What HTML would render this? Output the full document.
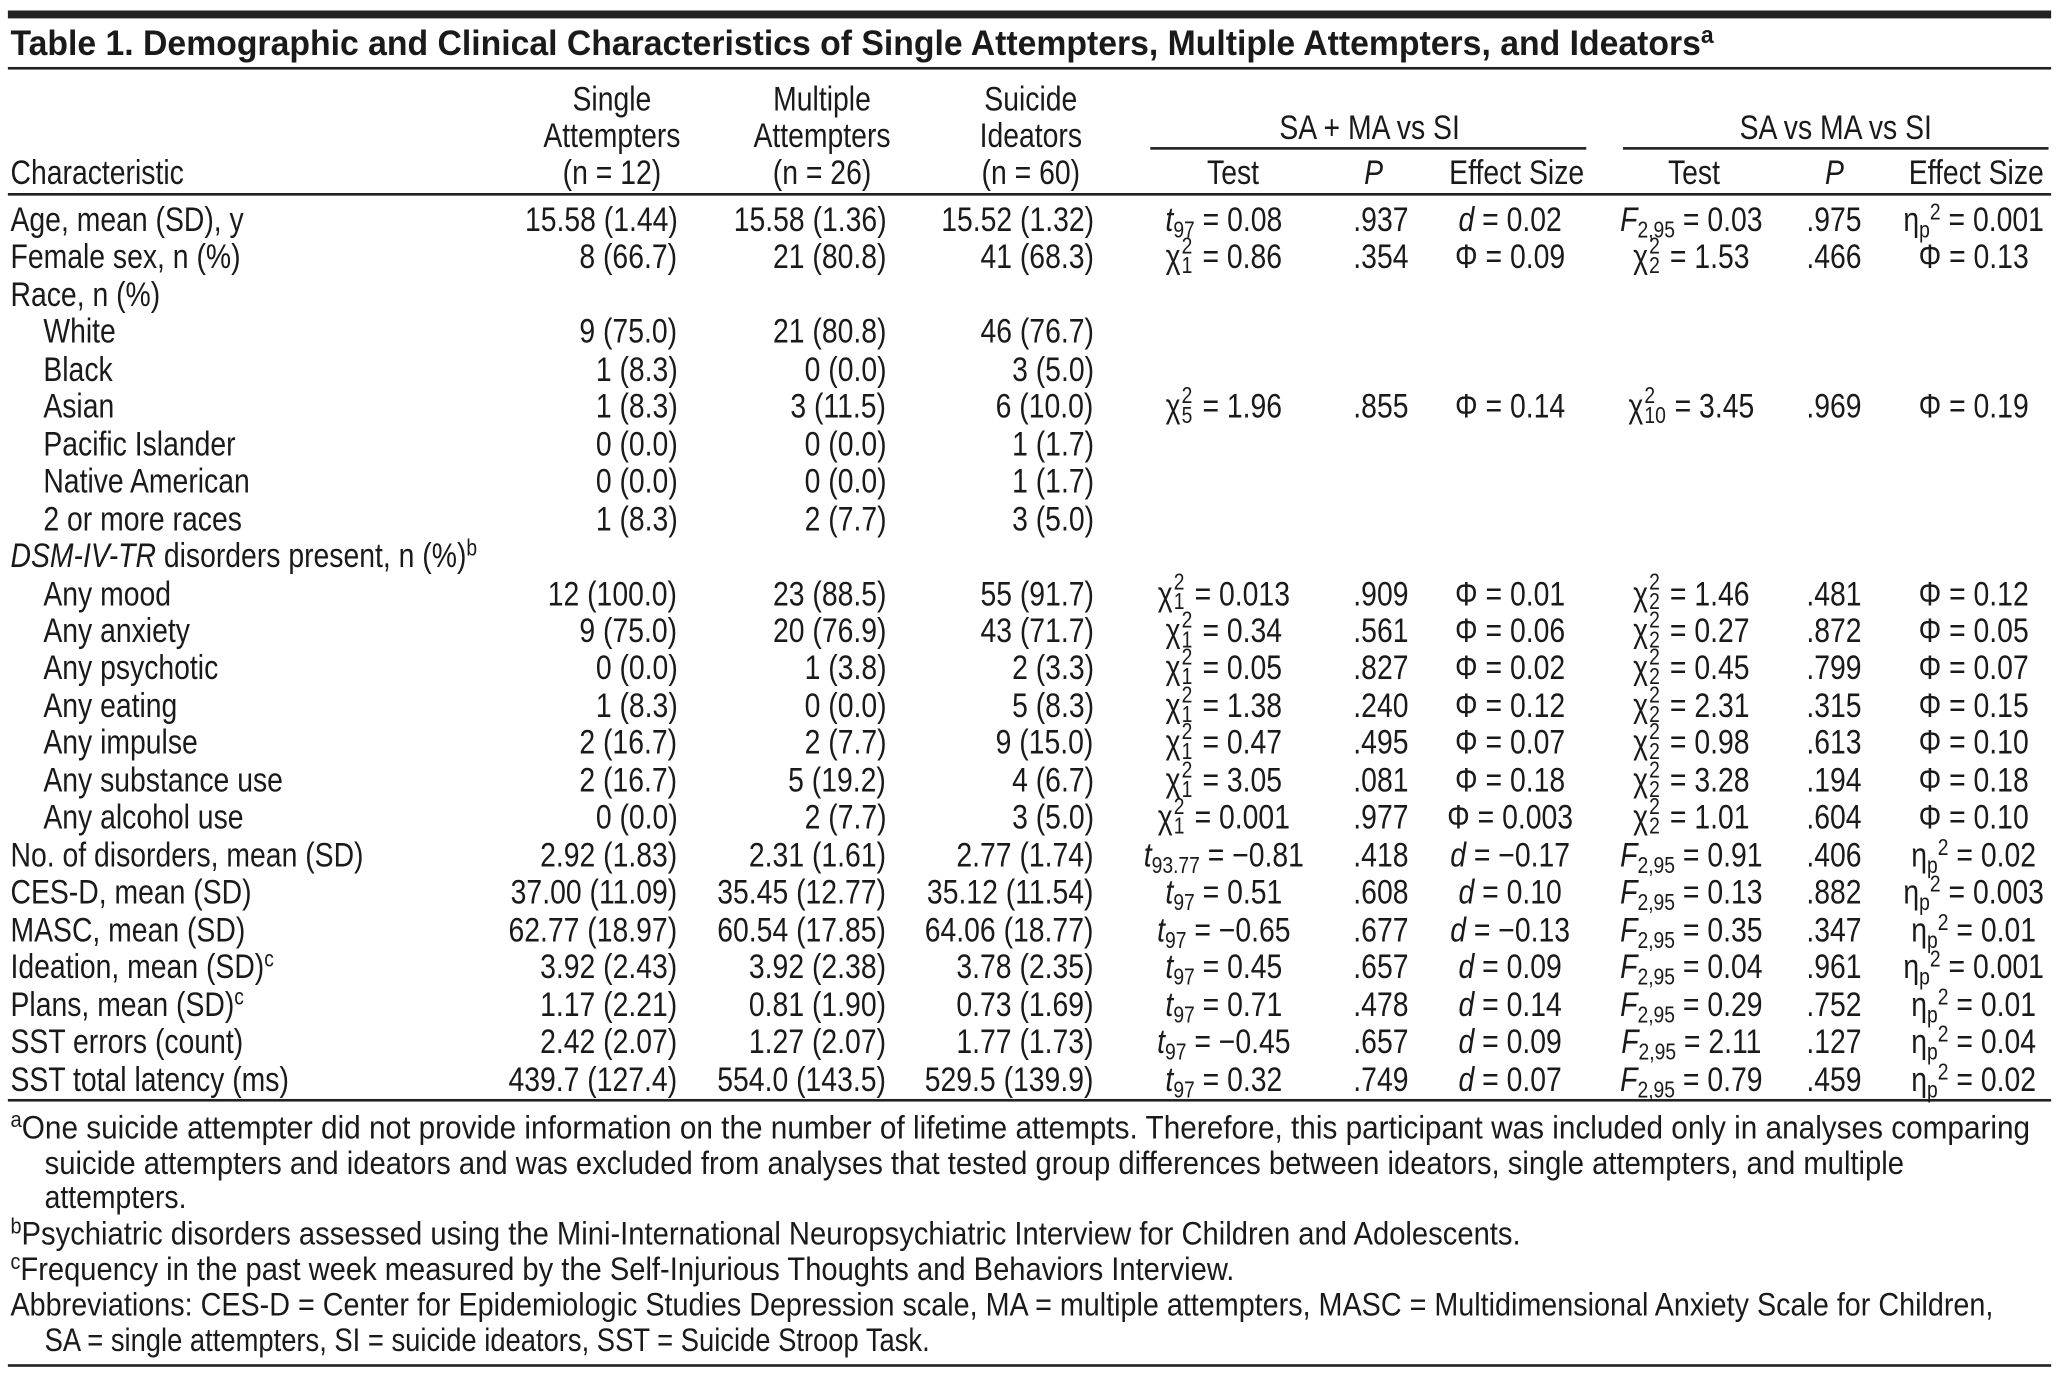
<!DOCTYPE html>
<html><head><meta charset="utf-8">
<style>
html,body{margin:0;padding:0;background:#fff;}
body{width:2059px;height:1376px;overflow:hidden;position:relative;}
#stage{position:absolute;left:0;top:0;width:1568px;height:1048px;transform:scale(1.31314,1.31298);transform-origin:0 0;color:#1a1a1a;
 font-family:"Liberation Sans Narrow","Arial Narrow","Liberation Sans",sans-serif;font-size:26px;}
.tx{position:absolute;height:28.6px;line-height:28.6px;white-space:nowrap;}
.rule{position:absolute;background:#222;}
sub{font-size:0.68em;vertical-align:-0.28em;line-height:0;}
sup{font-size:0.68em;vertical-align:0.5em;line-height:0;}
.ss{position:relative;display:inline-block;height:0;margin:0 1px;}
.ss .a,.ss .b{position:absolute;left:0;font-size:0.68em;line-height:1;}
.ss .a{bottom:0.42em;}
.ss .b{bottom:-0.42em;}
.title{font-weight:bold;}
.fn{font-size:25px;}
</style></head>
<body>
<div id="stage">
  <div class="rule" style="left:6px;top:8px;width:1556px;height:6px;"></div>
  <div class="rule" style="left:6px;top:51px;width:1556px;height:1.6px;"></div>
  <div class="rule" style="left:876px;top:112px;width:332px;height:1.6px;"></div>
  <div class="rule" style="left:1236px;top:112px;width:324px;height:1.6px;"></div>
  <div class="rule" style="left:6px;top:147px;width:1556px;height:1.6px;"></div>
  <div class="rule" style="left:6px;top:837px;width:1556px;height:1.6px;"></div>
  <div class="rule" style="left:6px;top:1039px;width:1556px;height:1.6px;"></div>
</div>
<script>
const chi = (df) => 'χ<span class="ss" style="width:' + (String(df).length > 1 ? 0.75 : 0.42) + 'em"><span class="a">2</span><span class="b">' + df + '</span></span>';
const eta = 'η<sub>p</sub><sup>2</sup>';
const rowLabels = ["Age, mean (SD), y","Female sex, n (%)","Race, n (%)","White","Black","Asian","Pacific Islander","Native American","2 or more races","<i>DSM-IV-TR</i> disorders present, n (%)<sup>b</sup>","Any mood","Any anxiety","Any psychotic","Any eating","Any impulse","Any substance use","Any alcohol use","No. of disorders, mean (SD)","CES-D, mean (SD)","MASC, mean (SD)","Ideation, mean (SD)<sup>c</sup>","Plans, mean (SD)<sup>c</sup>","SST errors (count)","SST total latency (ms)"];
const rowIndent = [0,0,0,1,1,1,1,1,1,0,1,1,1,1,1,1,1,0,0,0,0,0,0,0];
const singleVals = ["15.58 (1.44)","8 (66.7)","","9 (75.0)","1 (8.3)","1 (8.3)","0 (0.0)","0 (0.0)","1 (8.3)","","12 (100.0)","9 (75.0)","0 (0.0)","1 (8.3)","2 (16.7)","2 (16.7)","0 (0.0)","2.92 (1.83)","37.00 (11.09)","62.77 (18.97)","3.92 (2.43)","1.17 (2.21)","2.42 (2.07)","439.7 (127.4)"];
const multipleVals = ["15.58 (1.36)","21 (80.8)","","21 (80.8)","0 (0.0)","3 (11.5)","0 (0.0)","0 (0.0)","2 (7.7)","","23 (88.5)","20 (76.9)","1 (3.8)","0 (0.0)","2 (7.7)","5 (19.2)","2 (7.7)","2.31 (1.61)","35.45 (12.77)","60.54 (17.85)","3.92 (2.38)","0.81 (1.90)","1.27 (2.07)","554.0 (143.5)"];
const ideatorVals = ["15.52 (1.32)","41 (68.3)","","46 (76.7)","3 (5.0)","6 (10.0)","1 (1.7)","1 (1.7)","3 (5.0)","","55 (91.7)","43 (71.7)","2 (3.3)","5 (8.3)","9 (15.0)","4 (6.7)","3 (5.0)","2.77 (1.74)","35.12 (11.54)","64.06 (18.77)","3.78 (2.35)","0.73 (1.69)","1.77 (1.73)","529.5 (139.9)"];
const test1 = ["<i>t</i><sub>97</sub> = 0.08",chi(1)+" = 0.86","","","",chi(5)+" = 1.96","","","","",chi(1)+" = 0.013",chi(1)+" = 0.34",chi(1)+" = 0.05",chi(1)+" = 1.38",chi(1)+" = 0.47",chi(1)+" = 3.05",chi(1)+" = 0.001","<i>t</i><sub>93.77</sub> = −0.81","<i>t</i><sub>97</sub> = 0.51","<i>t</i><sub>97</sub> = −0.65","<i>t</i><sub>97</sub> = 0.45","<i>t</i><sub>97</sub> = 0.71","<i>t</i><sub>97</sub> = −0.45","<i>t</i><sub>97</sub> = 0.32"];
const p1 = [".937",".354","","","",".855","","","","",".909",".561",".827",".240",".495",".081",".977",".418",".608",".677",".657",".478",".657",".749"];
const eff1 = ["<i>d</i> = 0.02","Φ = 0.09","","","","Φ = 0.14","","","","","Φ = 0.01","Φ = 0.06","Φ = 0.02","Φ = 0.12","Φ = 0.07","Φ = 0.18","Φ = 0.003","<i>d</i> = −0.17","<i>d</i> = 0.10","<i>d</i> = −0.13","<i>d</i> = 0.09","<i>d</i> = 0.14","<i>d</i> = 0.09","<i>d</i> = 0.07"];
const test2 = ["<i>F</i><sub>2,95</sub> = 0.03",chi(2)+" = 1.53","","","",chi(10)+" = 3.45","","","","",chi(2)+" = 1.46",chi(2)+" = 0.27",chi(2)+" = 0.45",chi(2)+" = 2.31",chi(2)+" = 0.98",chi(2)+" = 3.28",chi(2)+" = 1.01","<i>F</i><sub>2,95</sub> = 0.91","<i>F</i><sub>2,95</sub> = 0.13","<i>F</i><sub>2,95</sub> = 0.35","<i>F</i><sub>2,95</sub> = 0.04","<i>F</i><sub>2,95</sub> = 0.29","<i>F</i><sub>2,95</sub> = 2.11","<i>F</i><sub>2,95</sub> = 0.79"];
const p2 = [".975",".466","","","",".969","","","","",".481",".872",".799",".315",".613",".194",".604",".406",".882",".347",".961",".752",".127",".459"];
const eff2 = [eta+" = 0.001","Φ = 0.13","","","","Φ = 0.19","","","","","Φ = 0.12","Φ = 0.05","Φ = 0.07","Φ = 0.15","Φ = 0.10","Φ = 0.18","Φ = 0.10",eta+" = 0.02",eta+" = 0.003",eta+" = 0.01",eta+" = 0.001",eta+" = 0.01",eta+" = 0.04",eta+" = 0.02"];
const footnotes = ["<sup>a</sup>One suicide attempter did not provide information on the number of lifetime attempts. Therefore, this participant was included only in analyses comparing","suicide attempters and ideators and was excluded from analyses that tested group differences between ideators, single attempters, and multiple","attempters.","<sup>b</sup>Psychiatric disorders assessed using the Mini-International Neuropsychiatric Interview for Children and Adolescents.","<sup>c</sup>Frequency in the past week measured by the Self-Injurious Thoughts and Behaviors Interview.","Abbreviations: CES-D = Center for Epidemiologic Studies Depression scale, MA = multiple attempters, MASC = Multidimensional Anxiety Scale for Children,","SA = single attempters, SI = suicide ideators, SST = Suicide Stroop Task."];
const footnoteIndent = [0,1,1,0,0,0,1];
const footnoteEnds = [1546,1450,142,1158,940,1518,708];

const stage = document.getElementById('stage');
const W = 1568;
const cells = [];
function place(html, x, y, align, cls) {
  const d = document.createElement('div');
  d.className = 'tx' + (cls ? ' ' + cls : '');
  d.innerHTML = html;
  d.style.top = (y - 14.3) + 'px';
  if (align === 'right') { d.style.right = (W - x) + 'px'; }
  else { d.style.left = x + 'px'; }
  d.dataset.align = align;
  stage.appendChild(d);
  cells.push(d);
  return d;
}
function setT(d, k) {
  const a = d.dataset.align;
  if (a === 'center') { d.style.transformOrigin = 'center'; d.style.transform = 'translateX(-50%) scaleX(' + k + ')'; }
  else if (a === 'right') { d.style.transformOrigin = 'right center'; d.style.transform = 'scaleX(' + k + ')'; }
  else { d.style.transformOrigin = 'left center'; d.style.transform = 'scaleX(' + k + ')'; }
}

const title = place('Table 1. Demographic and Clinical Characteristics of Single Attempters, Multiple Attempters, and Ideators<sup>a</sup>', 8, 33, 'left', 'title');
title.style.fontSize = '27px';



const groupHeads = [["Single","Attempters","(n = 12)"],["Multiple","Attempters","(n = 26)"],["Suicide","Ideators","(n = 60)"]];
const groupCenters = [466, 626, 785];
const headY = [75, 103, 131];
for (let g = 0; g < 3; g++) {
  for (let l = 0; l < 3; l++) {
    const h = place(groupHeads[g][l], groupCenters[g], headY[l], 'center');
    
    
  }
}
let hc = place('Characteristic', 8, 131, 'left');


let sp1 = place('SA + MA vs SI', 1043, 97, 'center');


let sp2 = place('SA vs MA vs SI', 1398, 97, 'center');


const subHeads = ['Test', '<i>P</i>', 'Effect Size', 'Test', '<i>P</i>', 'Effect Size'];
const subCenters = [939, 1046, 1155, 1290, 1397, 1505];
for (let i = 0; i < subHeads.length; i++) {
  const s = place(subHeads[i], subCenters[i], 131, 'center');
  
  
}

const y0 = 167, dy = 28.48;
const colDefs = [[singleVals,516,'right'],[multipleVals,675,'right'],[ideatorVals,833,'right'],[test1,932,'center'],[p1,1073,'right'],[eff1,1150,'center'],[test2,1288,'center'],[p2,1418,'right'],[eff2,1503,'center']];
for (let r = 0; r < rowLabels.length; r++) {
  const y = y0 + dy * r;
  const lab = place(rowLabels[r], rowIndent[r] ? 33 : 8, y, 'left');
  
  
  for (const [arr, x, al] of colDefs) {
    if (!arr[r]) continue;
    const c = place(arr[r], x, y, al);
    
    
  }
}

const fnY = [859, 886, 912, 940, 967, 994, 1021];
const fnEls = [];
for (let i = 0; i < footnotes.length; i++) {
  const f = place(footnotes[i], footnoteIndent[i] ? 34 : 8, fnY[i], 'left', 'fn');
  
  
  fnEls.push(f);
}

const probe = document.createElement('span');
probe.style.cssText = 'position:absolute;visibility:hidden;white-space:nowrap;font-size:26px;';
probe.textContent = 'SST total latency (ms)';
stage.appendChild(probe);
const k = Math.min(1.15, Math.max(0.6, 212 / probe.getBoundingClientRect().width * 1.31314));
stage.removeChild(probe);
for (const d of cells) {
  if (d === title || fnEls.includes(d)) continue;
  setT(d, k);
}
function fit(d, target) {
  d.style.transform = 'none';
  const w = d.getBoundingClientRect().width / 1.31314;
  setT(d, Math.min(1.3, Math.max(0.5, target / w)));
}
fit(title, 1305 - 8);
for (let i = 0; i < fnEls.length; i++) {
  fit(fnEls[i], footnoteEnds[i] - (footnoteIndent[i] ? 34 : 8));
}
</script>
</body></html>
